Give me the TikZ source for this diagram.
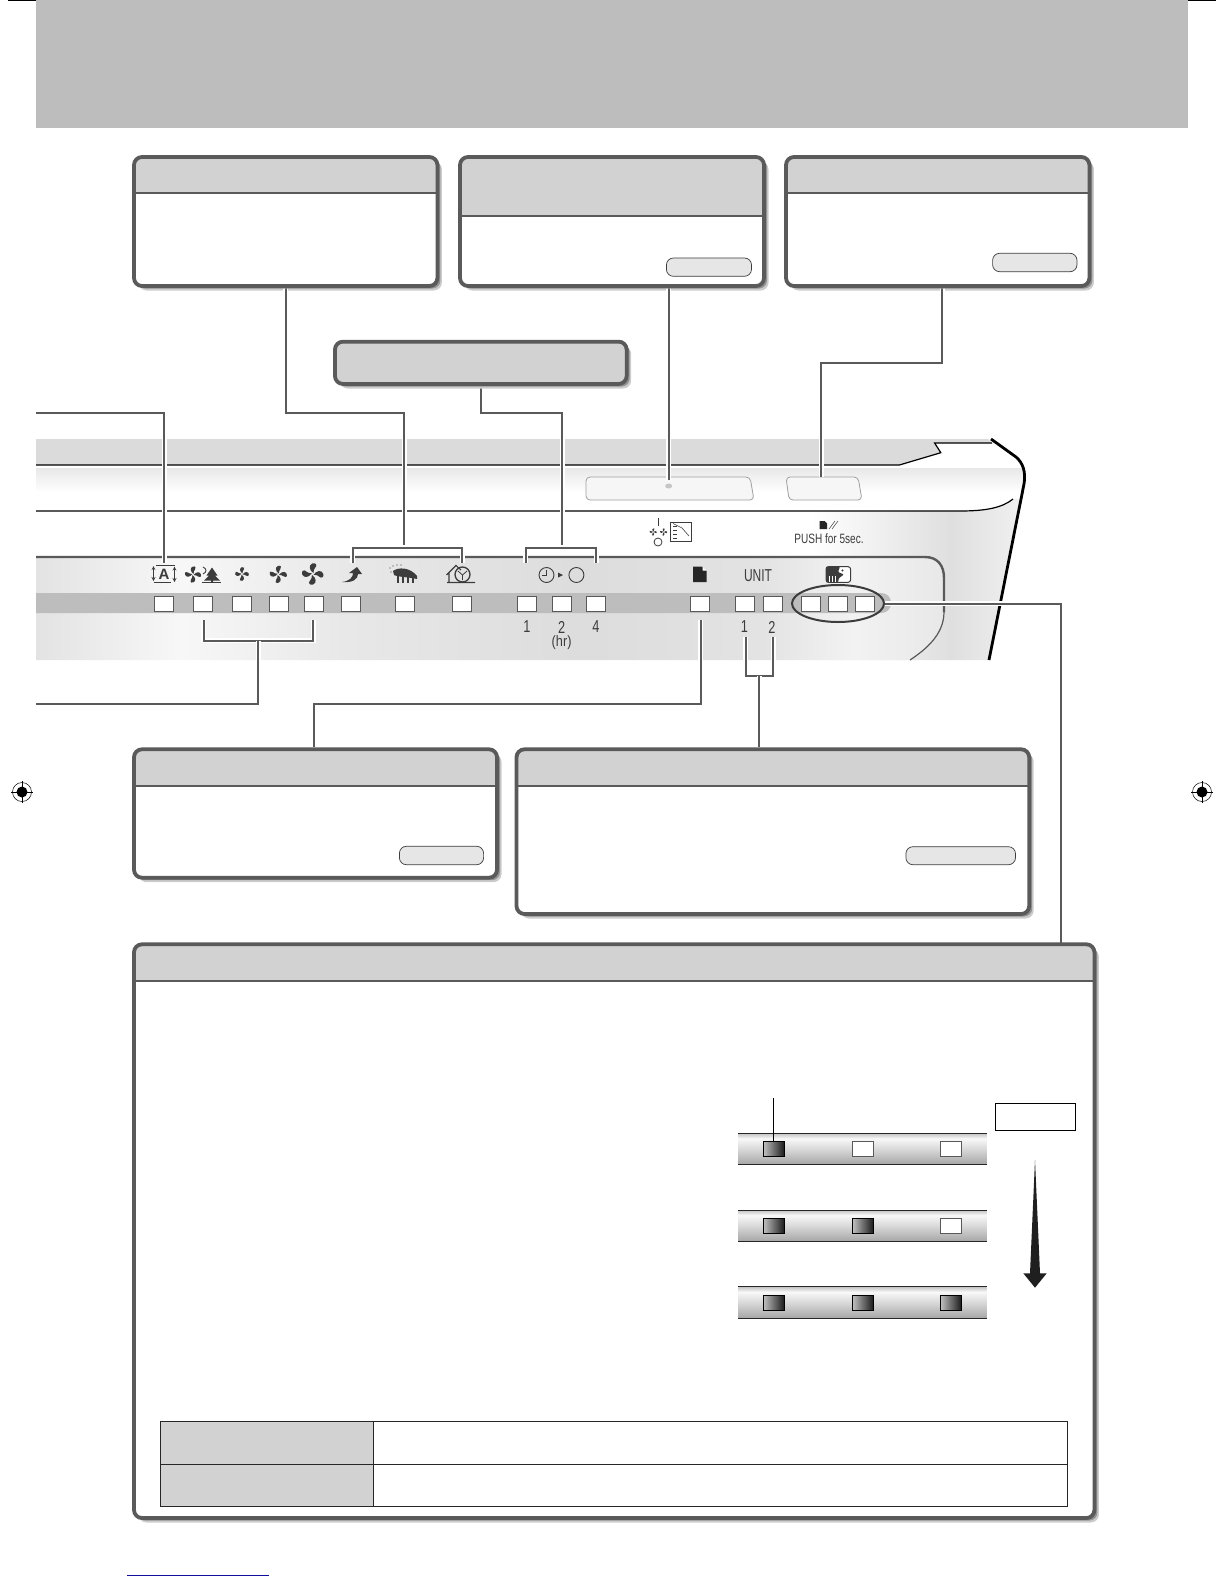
\documentclass[tikz,border=0pt]{standalone}
\usepackage{fontspec}
\setsansfont{Liberation Sans}
\usetikzlibrary{shapes.geometric, backgrounds, positioning, calc}
\pgfdeclarelayer{wires}
\pgfsetlayers{background,wires,main}
\definecolor{bandgray}{HTML}{BDBDBD}
\definecolor{headgray}{HTML}{D2D2D2}
\definecolor{edgegray}{HTML}{5A5A5A}
\definecolor{pillgray}{HTML}{E6E6E6}
\definecolor{inkgray}{HTML}{3C3C3C}
\definecolor{printblue}{HTML}{1010A0}
\pgfdeclarehorizontalshading{panelshade}{100bp}{color(0bp)=(gray!20); color(25bp)=(gray!22);
  color(29bp)=(gray!14); color(33bp)=(gray!6); color(42bp)=(gray!18); color(55bp)=(gray!27);
  color(65bp)=(gray!22); color(70bp)=(gray!10); color(75bp)=(gray!18); color(100bp)=(gray!18)}
\pgfdeclarehorizontalshading{bodyshade}{100bp}{color(0bp)=(white); color(64bp)=(white);
  color(71bp)=(gray!25); color(75bp)=(gray!10); color(100bp)=(gray!10)}
\pgfdeclareverticalshading{stripshade}{100bp}{color(0bp)=(gray!70); color(25bp)=(gray!70);
  color(50bp)=(gray!30); color(67bp)=(gray!5); color(75bp)=(gray!45); color(100bp)=(gray!45)}
\tikzset{
  frame/.style={draw=edgegray,line width=3.8pt,rounded corners=8pt,inner sep=0pt},
  lead/.style={draw=edgegray,line width=2pt,preaction={draw=white,line width=5pt}},
  lamp/.style={draw=gray!70!black,fill=white,line width=0.8pt,inner sep=0pt,minimum width=19pt,minimum height=15pt},
  litlamp/.style={draw=black,line width=0.8pt,inner sep=0pt,left color=gray!50,right color=black!90,minimum width=21pt,minimum height=15pt},
  offlamp/.style={draw=gray!70!black,fill=white,line width=0.8pt,inner sep=0pt,minimum width=21pt,minimum height=15pt},
  pill/.style={draw=inkgray,fill=pillgray,line width=0.7pt,rounded corners=7pt,inner sep=0pt},
  cell/.style={draw=black!85,line width=0.9pt,inner sep=0pt},
  strip/.style={shading=stripshade,inner sep=0pt,minimum width=248.4pt},
  tag/.style={font=\sffamily\fontsize{15}{15}\selectfont,text=inkgray,inner sep=0pt},
  icon/.style={fill=inkgray,draw=none}
}
% name, left, top, right, bottom, rule under the head
\newcommand\calloutbox[6]{
  \begin{scope}[on background layer]
    \fill[gray!40,rounded corners=8pt] (#2+4.5,#3+4.5) rectangle (#4+4.5,#5+4.5);
  \end{scope}
  \fill[gray!85,rounded corners=8pt] (#2+3,#3+2.5) rectangle (#4+3,#5+2.5);
  \fill[white,rounded corners=8pt] (#2,#3) rectangle (#4,#5);
  \fill[headgray] (#2,#6) [rounded corners=7pt] -- (#2,#3) -- (#4,#3) [sharp corners] -- (#4,#6) -- cycle;
  \draw[edgegray,line width=2pt] (#2,#6) -- (#4,#6);
  \node[frame,minimum width={(#4-#2)*1pt},minimum height={(#5-#3)*1pt}] (#1) at ({(#2+#4)/2},{(#3+#5)/2}) {};
}
% x, y, size
\newcommand\fanicon[3]{
  \foreach \a in {20,110,200,290}
    \fill[icon,shift={(#1,#2)},rotate=\a,scale=#3] (0.1,-0.06) .. controls (-0.2,-0.45) and (-0.12,-0.98) .. (0.32,-1) .. controls (0.72,-1) and (0.74,-0.62) .. (0.46,-0.52) .. controls (0.3,-0.46) and (0.2,-0.28) .. (0.1,-0.06) -- cycle;
}
% x, y
\newcommand\regmark[2]{
  \draw[black,line width=0.5pt] (#1,#2) circle (9.5);
  \fill[black] (#1,#2) circle (5.5);
  \draw[white,line width=0.9pt] (#1-6,#2) -- (#1+6,#2);
  \draw[black,line width=0.9pt] (#1-11,#2) -- (#1+11,#2) (#1,#2-11) -- (#1,#2+11);
}
\begin{document}
\begin{tikzpicture}[x=1pt,y=-1pt]
\useasboundingbox (0,0) rectangle (1224,1584);

% page furniture
\fill[bandgray] (36,0) rectangle (1188,128);
\draw[black,line width=1.2pt] (8,0.6) -- (36,0.6) (1188,0.6) -- (1216,0.6);
\draw[printblue,line width=1pt] (127,1575) -- (269,1575);
\regmark{22}{792}
\regmark{1202}{792}

% the unit, drawn behind the leads
\begin{scope}[on background layer]
\fill[white] (36,439) -- (991,439) -- (1016,457) .. controls (1023,463) and (1026,472) .. (1024,484) -- (989,660) -- (36,660) -- cycle;
\begin{scope}
\clip (36,439) -- (991,439) -- (1016,457) .. controls (1023,463) and (1026,472) .. (1024,484) -- (989,660) -- (36,660) -- cycle;
\shade[bottom color=white,top color=gray!18] (36,468) rectangle (1030,492);
\shade[shading=bodyshade] (36,511) -- (960,511) .. controls (985,511) and (1002,508) .. (1013,499) -- (1030,499) -- (1030,660) -- (36,660) -- cycle;
\end{scope}
\fill[gray!28] (36,439) -- (988,439) -- (992,443) -- (934.6,443) -- (940.8,452.7) -- (899.4,465) -- (36,465) -- cycle;
\draw[black,line width=1.2pt] (36,465) -- (899.4,465) -- (940.8,452.7) -- (934.6,443) -- (992,443);
\draw[black,line width=1.2pt] (36,511) -- (960,511) .. controls (985,511) and (1002,508) .. (1013,499);
\shade[shading=panelshade] (36,557) -- (925,557) .. controls (938,557) and (944,566) .. (944,578) -- (944,612) .. controls (944,635) and (925,650) .. (910,660) -- (36,660) -- cycle;
\draw[gray!70!black,line width=2.4pt] (36,557) -- (925,557) .. controls (938,557) and (944,566) .. (944,578) -- (944,612);
\draw[gray!70!black,line width=1.2pt] (944,612) .. controls (944,635) and (925,650) .. (910,660);
\fill[bandgray] (36,593) -- (881,593) .. controls (887,593) and (891,597) .. (891,603) .. controls (891,609) and (887,613) .. (881,613) -- (36,613) -- cycle;
\draw[black,line width=2.8pt] (991,439) -- (1016,457) .. controls (1023,463) and (1026,472) .. (1024,484) -- (989,660);
\draw[gray!75,line width=0.8pt,rounded corners=4pt,fill=gray!7] (586,477) -- (750,477) -- (754,500) -- (586,500) -- cycle;
\draw[gray!75,line width=0.8pt,rounded corners=4pt,fill=gray!7] (786,477) -- (858,477) -- (862,500) -- (789,500) -- cycle;
\fill[gray!45] (668.7,486) ellipse (3.5 and 2.5);
\end{scope}

% callouts
\calloutbox{airbox}{134}{157}{437.4}{286}{192.7}
\calloutbox{sensorbox}{460}{157}{764}{286}{216.3}
\calloutbox{resetbox}{786}{157}{1089.4}{286}{192.7}
\calloutbox{filterbox}{134}{749.3}{497}{877.7}{785.7}
\calloutbox{unitbox}{516.5}{749.3}{1029.2}{914}{785.7}
\calloutbox{mixbox}{134}{944.3}{1094.4}{1518}{981}
\fill[gray!40,rounded corners=8pt] (339.5,346.2) rectangle (631.2,388.5);
\fill[gray!85,rounded corners=8pt] (338,344.2) rectangle (629.7,386.5);
\node[frame,fill=headgray,minimum width=291.7pt,minimum height=42.3pt] (timerbox) at (480.8,362.8) {};

\foreach \name/\l/\t/\r/\b in {sensorpill/666.4/258/751.5/276.3, resetpill/992.6/253.3/1077/271.7,
    filterpill/399.4/846.3/483.6/864.7, unitpill/905.9/846.7/1015.5/864.7}
  \node[pill,minimum width={(\r-\l)*1pt},minimum height={(\b-\t)*1pt}] (\name) at ({(\l+\r)/2},{(\t+\b)/2}) {};

% lamps of the bar
\foreach \name/\x in {autolamp/163.8, nightlamp/202.8, fanlow/241.8, fanmid/278.8, fanhigh/313.8, boostlamp/351.3,
    quietlamp/404.5, homelamp/461.8, timerone/526.8, timertwo/562, timerfour/596, filterlamp/700,
    unitone/744.5, unittwo/772.5, mixone/811.3, mixtwo/838, mixthree/865}
  \node[lamp] (\name) at (\x,603.5) {};
\node[draw=inkgray,line width=2pt,ellipse,inner sep=0pt,minimum width=92pt,minimum height=37pt] (mixring) at (838,603.5) {};

% icons over the lamps
\draw[inkgray,line width=1.1pt,rounded corners=1pt] (156,565.5) -- (174.5,565.5) (153.5,582.5) -- (171,582.5);
\draw[inkgray,line width=0.8pt,<->,>=stealth] (153.5,566) -- (153.5,581);
\draw[inkgray,line width=0.8pt,<->,>=stealth] (174.5,566.5) -- (174.5,582);
\node[tag,font=\sffamily\bfseries\fontsize{15}{15}\selectfont] (autotag) at (164,574.5) {A};
\fanicon{193}{574.5}{7.5}
\fanicon{242}{574}{6.5}
\fanicon{278.3}{574.3}{8}
\fanicon{312.7}{574}{10}
\fill[icon] (212,567.5) -- (217.5,575.5) -- (215,575.5) -- (220,580.5) -- (213,580.5) -- (213,582) -- (211,582) -- (211,580.5) -- (204,580.5) -- (209,575.5) -- (206.5,575.5) -- cycle;
\draw[inkgray,line width=1pt] (202,582.8) -- (221,582.8);
\draw[inkgray,line width=0.9pt] (203,567) .. controls (207,569) and (207,572) .. (203,574);
\fill[icon] (342,582) .. controls (350,581) and (353,577) .. (353,573) -- (349,573) -- (357,567) -- (362,574) -- (358,574) .. controls (358,579) and (353,583) .. (342,582) -- cycle;
\foreach \x in {398,403,408,413}
  \draw[inkgray,line width=1.6pt] (\x,574) -- (\x,583);
\fill[icon] (393,571) .. controls (398,567) and (410,567) .. (417,576) -- (417,579) .. controls (408,577) and (398,577) .. (394,575) -- cycle;
\foreach \x/\y in {390/568,393/566,397/565,391/572,401/565}
  \fill[icon] (\x,\y) circle (0.7);
\draw[inkgray,line width=1.1pt] (447,582.5) -- (475,582.5) (449,582.5) -- (449,573) (446.5,575) -- (456,565.5) -- (461,570);
\draw[inkgray,line width=1.3pt] (462.5,574.5) circle (7.5);
\draw[inkgray,line width=0.8pt] (458,571) -- (462.5,575) -- (467,571) (462.5,575) -- (462.5,580);
\draw[inkgray,line width=0.9pt] (546.5,575) circle (7.5);
\draw[inkgray,line width=0.9pt] (546.5,570) -- (546.5,575) -- (541.5,575);
\fill[icon] (558,572.5) -- (563,575) -- (558,577.5) -- cycle;
\draw[inkgray,line width=0.9pt] (576.4,575) circle (7.5);
\fill[black!85] (693,566.7) -- (702,566.7) -- (706.6,571) -- (706.6,582) -- (693,582) -- cycle;
\fill[white] (702.5,566.7) -- (706.6,570.5) -- (702.5,570.5) -- cycle;
\draw[inkgray,line width=1pt,rounded corners=2.5pt,fill=white] (826,566.7) rectangle (850.6,582.3);
\fill[icon,rounded corners=1pt] (826,566.7) -- (840,566.7) -- (838,572) -- (844,574.5) -- (839,578) -- (838,582.3) -- (826,582.3) -- cycle;
\fill[icon] (842.5,570.5) circle (1.1);
\foreach \x in {829,832,835}
  \draw[white,line width=0.7pt] (\x,576) -- (\x,582);

% marks above the panel
\draw[inkgray,line width=0.7pt] (658.4,518) -- (658.4,526);
\fanicon{653.2}{532}{3.4}
\fanicon{663.6}{532}{3.4}
\draw[inkgray,line width=0.8pt] (658,542) circle (4);
\draw[inkgray,line width=0.8pt] (670.5,522) rectangle (691,541.7);
\draw[inkgray,line width=0.6pt] (673,526) -- (677,526) (673,530) -- (677,530) (673,534) -- (677,534) (673,538) -- (677,538);
\draw[inkgray,line width=0.6pt] (673,523.5) -- (682,528) -- (689,536);
\fill[black!85] (819.6,521) -- (824.5,521) -- (827,523.5) -- (827,529) -- (819.6,529) -- cycle;
\draw[inkgray,line width=0.5pt] (829,529) -- (835,521) (832,529) -- (838,521);
\node[tag] (pushtag) at (829,539) {\scalebox{0.67}[0.9]{PUSH for 5sec.}};

\node[tag] (unittag) at (758,576) {\scalebox{0.8}[1.15]{UNIT}};
\foreach \name/\x/\txt in {hrone/527/1, hrtwo/561.6/2, hrfour/596/4, unitnum/744.5/1, unitnumb/772/2}
  \node[tag] (\name) at (\x,627) {\scalebox{0.85}[1.15]{\txt}};
\node[tag] (hrtag) at (561.6,643) {\scalebox{0.85}[1]{(hr)}};

% leads
\begin{pgfonlayer}{wires}
\coordinate (autostart) at (36,413.3);
\coordinate (autoend) at (164.3,563);
\coordinate (modeknee) at (404.3,413.3);
\coordinate (modetee) at (404.3,547.7);
\coordinate (modeleft) at (352.7,563);
\coordinate (moderight) at (462.3,563);
\coordinate (timerknee) at (562,413.3);
\coordinate (timertee) at (562,547.7);
\coordinate (timerleft) at (525.8,563);
\coordinate (timerright) at (596.4,563);
\coordinate (sensorend) at (668.5,480);
\coordinate (resetknee) at (942,362.7);
\coordinate (resetend) at (821,477);
\coordinate (fantee) at (258,640.7);
\coordinate (fanleft) at (203.7,620);
\coordinate (fanright) at (313.3,620);
\coordinate (fanknee) at (258,704);
\coordinate (fanstart) at (36,704);
\coordinate (filterknee) at (700.8,704);
\coordinate (filterend) at (700.8,620);
\coordinate (unittee) at (759,676);
\coordinate (unitleft) at (745.5,636.7);
\coordinate (unitright) at (773,636.7);
\coordinate (mixdrop) at (1061.3,944);
\draw[lead] (autostart) -| (autoend);
\draw[lead] (airbox.south) |- (modeknee) -- (modetee);
\draw[lead] (modeleft) |- (modetee) -| (moderight);
\draw[lead] (timerbox.south) |- (timerknee) -- (timertee);
\draw[lead] (timerleft) |- (timertee) -| (timerright);
\draw[lead] (sensorbox.south -| sensorend) -- (sensorend);
\draw[lead] (resetbox.south -| resetknee) -- (resetknee) -| (resetend);
\draw[lead] (fanleft) |- (fantee) -| (fanright);
\draw[lead] (fantee) -- (fanknee) -- (fanstart);
\draw[lead] (filterbox.north -| 314,0) |- (filterknee) -- (filterend);
\draw[lead] (unitleft) |- (unittee) -| (unitright);
\draw[lead] (unittee) -- (unitbox.north -| unittee);
\draw[lead] (mixring.east) -| (mixdrop);
\end{pgfonlayer}

% sequence of the three lamps
\node[draw=black,line width=0.9pt,inner sep=0pt,minimum width=80.4pt,minimum height=27.4pt] (mixtag) at (1035.5,1117) {};
\foreach \s/\y/\rowb/\rowc in {one/1149/offlamp/offlamp, two/1225.8/litlamp/offlamp, three/1302.5/litlamp/litlamp}{
  \node[strip,minimum height=31pt] (strip\s) at (862.5,\y) {};
  \draw[black!85,line width=0.9pt] (strip\s.north west) -- (strip\s.north east) (strip\s.south west) -- (strip\s.south east);
  \node[litlamp] (lamp\s a) at (774,\y) {};
  \node[\rowb] (lamp\s b) at (863,\y) {};
  \node[\rowc] (lamp\s c) at (951,\y) {};
}
\coordinate (pointtop) at (773.3,1098.3);
\draw[black,line width=0.9pt] (pointtop) -- (lamponea.north -| pointtop);
\fill[black!88] (1035,1160) -- (1040,1273.3) -- (1046.7,1273.3) -- (1035,1287.7) -- (1023.3,1273.3) -- (1030,1273.3) -- cycle;

% table at the foot
\foreach \name/\y/\h in {rowone/1442.8/43, rowtwo/1485.3/42}{
  \node[cell,fill=headgray,minimum width=213pt,minimum height={\h*1pt}] (\name head) at (266.8,\y) {};
  \node[cell,minimum width=694.4pt,minimum height={\h*1pt}] (\name body) at (720.5,\y) {};
}
\end{tikzpicture}
\end{document}
